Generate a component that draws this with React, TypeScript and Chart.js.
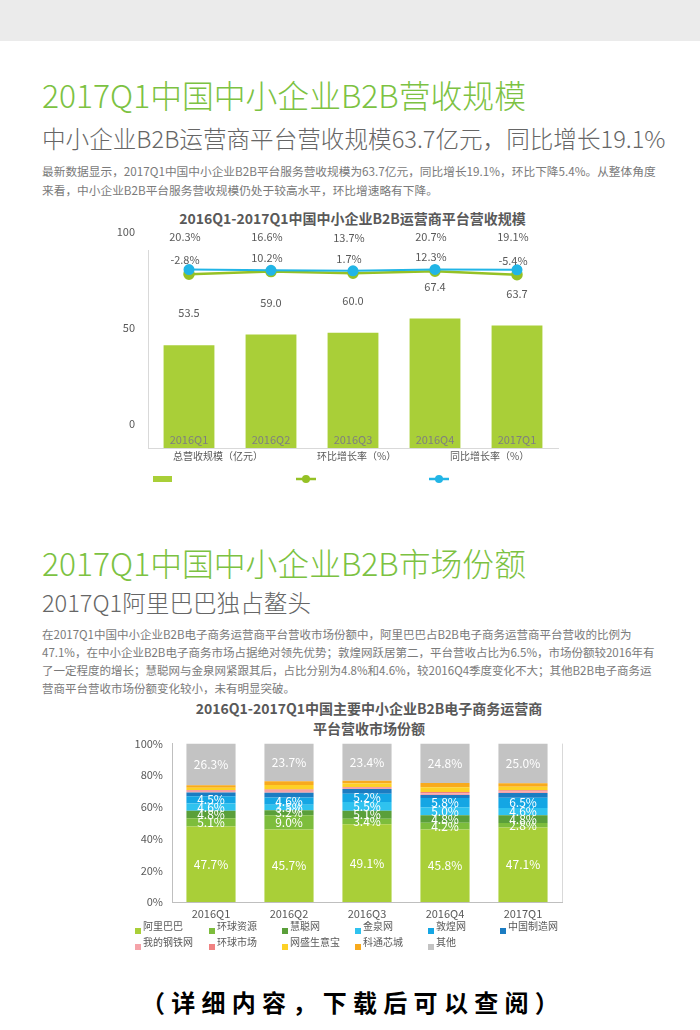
import React, { useEffect, useRef } from "react";
import { Chart, registerables } from "chart.js";

Chart.register(...registerables);
Chart.defaults.font.family = '"Noto Sans CJK SC", "Noto Sans", sans-serif';

// ---------- Chart 1 data ----------
const quarters = ["2016Q1", "2016Q2", "2016Q3", "2016Q4", "2017Q1"];
const revenue = [53.5, 59.0, 60.0, 67.4, 63.7];
const qoqGrowth = [-2.8, 10.2, 1.7, 12.3, -5.4];
const yoyGrowth = [20.3, 16.6, 13.7, 20.7, 19.1];
const revenueTicks = [0, 50, 100];
const revenueLegend = ["总营收规模（亿元）", "环比增长率（%）", "同比增长率（%）"];

// ---------- Chart 2 data ----------
const shareNames = [
  "阿里巴巴", "环球资源", "慧聪网", "金泉网", "敦煌网", "中国制造网",
  "我的钢铁网", "环球市场", "网盛生意宝", "科通芯城", "其他",
];
const alibaba = [47.7, 45.7, 49.1, 45.8, 47.1];
const globalSources = [5.1, 9.0, 3.4, 4.2, 2.8];
const hc360 = [4.8, 3.2, 5.1, 4.8, 4.8];
const jqw = [4.6, 3.5, 5.5, 5.0, 4.6];
const dhgate = [4.5, 4.6, 5.2, 5.8, 6.5];
const madeInChina = [2.5, 3.0, 3.1, 2.0, 3.0];
const mysteel = [1.0, 1.2, 0.8, 1.0, 1.0];
const globalMarket = [0.5, 0.8, 0.4, 0.8, 0.7];
const netsun = [1.5, 2.8, 2.2, 3.0, 2.3];
const cogobuy = [1.5, 2.5, 1.8, 2.8, 2.2];
const others = [26.3, 23.7, 23.4, 24.8, 25.0];
const shareValues = [alibaba, globalSources, hc360, jqw, dhgate, madeInChina, mysteel, globalMarket, netsun, cogobuy, others];
const shareLabelled = [true, true, true, true, true, false, false, false, false, false, true];
const shareTicks = [0, 20, 40, 60, 80, 100];

// ---------- styles ----------
const BAR_GREEN = "#a9cf38";
const LINE_GREEN = "#95c125";
const LINE_BLUE = "#22b5e6";
const shareColors = [
  "#a9cf38", "#7dbd3c", "#5a9f3a", "#2fc2ef", "#14a6e4", "#1b7cc2",
  "#f5a3a9", "#f08282", "#fdd126", "#f8aa1d", "#c3c3c3",
];
const FONT = '"Noto Sans CJK SC", "Noto Sans", sans-serif';
const TXT = "#595959";

function RevenueChart() {
  const ref = useRef<HTMLCanvasElement>(null);
  useEffect(() => {
    const labelPlugin = {
      id: "revLabels",
      afterDatasetsDraw(chart: any) {
        const ctx = chart.ctx;
        ctx.save();
        ctx.font = `11px ${FONT}`;
        ctx.textAlign = "center";
        ctx.textBaseline = "middle";
        // category labels drawn inside the bars, from the x scale
        const xs = chart.scales.x;
        ctx.fillStyle = "#7f7f7f";
        xs.ticks.forEach((t: any, i: number) => {
          ctx.fillText(xs.getLabelForValue(t.value), xs.getPixelForTick(i), chart.chartArea.bottom - 8);
        });
        ctx.fillStyle = TXT;
        chart.getDatasetMeta(0).data.forEach((el: any, i: number) => {
          ctx.fillText(revenue[i].toFixed(1), el.x, el.y - 32);
        });
        chart.getDatasetMeta(1).data.forEach((el: any, i: number) => {
          ctx.fillText(qoqGrowth[i].toFixed(1) + "%", el.x - 4, el.y - 14);
        });
        chart.getDatasetMeta(2).data.forEach((el: any, i: number) => {
          ctx.fillText(yoyGrowth[i].toFixed(1) + "%", el.x - 4, el.y - 33);
        });
        ctx.restore();
      },
    };
    const legendPlugin = {
      id: "revLegend",
      afterDraw(chart: any) {
        const ctx = chart.ctx;
        ctx.save();
        ctx.font = `10px ${FONT}`;
        ctx.fillStyle = TXT;
        ctx.textAlign = "left";
        ctx.textBaseline = "middle";
        const textX = [173, 317, 450];
        revenueLegend.forEach((t, i) => ctx.fillText(t, textX[i], 231));
        const my = 254;
        ctx.fillStyle = BAR_GREEN;
        ctx.fillRect(153, my - 3, 19, 6);
        const lines = [
          { x: 296, c: LINE_GREEN },
          { x: 429, c: LINE_BLUE },
        ];
        lines.forEach((l) => {
          ctx.strokeStyle = l.c;
          ctx.fillStyle = l.c;
          ctx.lineWidth = 2.5;
          ctx.beginPath();
          ctx.moveTo(l.x, my);
          ctx.lineTo(l.x + 20, my);
          ctx.stroke();
          ctx.beginPath();
          ctx.arc(l.x + 10, my, 4, 0, Math.PI * 2);
          ctx.fill();
        });
        ctx.restore();
      },
    };
    const chart = new Chart(ref.current!, {
      type: "bar",
      data: {
        labels: quarters,
        datasets: [
          {
            type: "bar",
            label: revenueLegend[0],
            data: revenue,
            backgroundColor: BAR_GREEN,
            yAxisID: "y",
            order: 3,
            barPercentage: 0.62,
            categoryPercentage: 1,
          },
          {
            type: "line",
            label: revenueLegend[1],
            data: qoqGrowth,
            borderColor: LINE_GREEN,
            backgroundColor: LINE_GREEN,
            pointBackgroundColor: LINE_GREEN,
            pointBorderColor: LINE_GREEN,
            yAxisID: "y2",
            order: 2,
            pointRadius: 4.5,
            borderWidth: 2.5,
          },
          {
            type: "line",
            label: revenueLegend[2],
            data: yoyGrowth,
            borderColor: LINE_BLUE,
            backgroundColor: LINE_BLUE,
            pointBackgroundColor: LINE_BLUE,
            pointBorderColor: LINE_BLUE,
            yAxisID: "y2",
            order: 1,
            pointRadius: 4.5,
            borderWidth: 2,
          },
        ] as any,
      },
      options: {
        animation: false,
        responsive: false,
        maintainAspectRatio: false,
        layout: { padding: { left: 0, right: 142, top: 25, bottom: 0 } },
        plugins: { legend: { display: false }, tooltip: { enabled: false } },
        scales: {
          x: {
            grid: { display: false, drawTicks: false },
            border: { color: "#d9d9d9" },
            ticks: { display: false },
            afterFit: (s: any) => {
              s.height = 47;
            },
          },
          y: {
            min: 0,
            max: 103,
            afterBuildTicks: (s: any) => {
              s.ticks = revenueTicks.map((v) => ({ value: v }));
            },
            grid: { display: false, drawTicks: false },
            border: { color: "#d9d9d9" },
            ticks: { color: TXT, font: { size: 11 }, padding: 13, labelOffset: -24 },
            afterFit: (s: any) => {
              s.width = 148;
            },
          },
          y2: { display: false, min: -872, max: 118 },
        },
      } as any,
      plugins: [labelPlugin, legendPlugin],
    });
    return () => chart.destroy();
  }, []);
  return (
    <canvas
      ref={ref}
      width={700}
      height={270}
      style={{ position: "absolute", left: 0, top: 225, width: 700, height: 270 }}
    />
  );
}

function ShareChart() {
  const ref = useRef<HTMLCanvasElement>(null);
  useEffect(() => {
    const labelPlugin = {
      id: "shareLabels",
      afterDatasetsDraw(chart: any) {
        const ctx = chart.ctx;
        ctx.save();
        ctx.font = `12px ${FONT}`;
        ctx.fillStyle = "#ffffff";
        ctx.textAlign = "center";
        ctx.textBaseline = "middle";
        shareValues.forEach((vals, d) => {
          if (!shareLabelled[d]) return;
          chart.getDatasetMeta(d).data.forEach((el: any, i: number) => {
            ctx.fillText(vals[i].toFixed(1) + "%", el.x, (el.y + el.base) / 2);
          });
        });
        // right frame line
        const a = chart.chartArea;
        ctx.strokeStyle = "#d9d9d9";
        ctx.lineWidth = 1;
        ctx.beginPath();
        ctx.moveTo(a.right + 0.5, a.top);
        ctx.lineTo(a.right + 0.5, a.bottom);
        ctx.stroke();
        ctx.restore();
      },
    };
    const legendPlugin = {
      id: "shareLegend",
      afterDraw(chart: any) {
        const ctx = chart.ctx;
        ctx.save();
        ctx.font = `10px ${FONT}`;
        ctx.textAlign = "left";
        ctx.textBaseline = "middle";
        const colX = [143, 217, 290, 363, 436, 508];
        const rowY = [198, 214];
        shareNames.forEach((n, i) => {
          const x = colX[i % 6];
          const y = rowY[Math.floor(i / 6)];
          ctx.fillStyle = shareColors[i];
          ctx.fillRect(x - 8, y + 2, 6, 6);
          ctx.fillStyle = TXT;
          ctx.fillText(n, x, y);
        });
        ctx.restore();
      },
    };
    const chart = new Chart(ref.current!, {
      type: "bar",
      data: {
        labels: quarters,
        datasets: shareNames.map((n, i) => ({
          label: n,
          data: shareValues[i],
          backgroundColor: shareColors[i],
          barPercentage: 0.63,
          categoryPercentage: 1,
        })),
      },
      options: {
        animation: false,
        responsive: false,
        maintainAspectRatio: false,
        layout: { padding: { left: 0, right: 138, top: 1, bottom: 0 } },
        plugins: { legend: { display: false }, tooltip: { enabled: false } },
        scales: {
          x: {
            stacked: true,
            grid: { display: false, drawTicks: false },
            border: { color: "#bfbfbf" },
            ticks: { color: TXT, font: { size: 11 }, padding: 5 },
            afterFit: (s: any) => {
              s.height = 53;
            },
          },
          y: {
            stacked: true,
            min: 0,
            max: 100,
            afterBuildTicks: (s: any) => {
              s.ticks = shareTicks.map((v) => ({ value: v }));
            },
            grid: { display: false, drawTicks: false },
            border: { color: "#bfbfbf" },
            ticks: {
              color: TXT,
              font: { size: 11 },
              padding: 9,
              callback: (v: any) => v + "%",
            },
            afterFit: (s: any) => {
              s.width = 172;
            },
          },
        },
      } as any,
      plugins: [labelPlugin, legendPlugin],
    });
    return () => chart.destroy();
  }, []);
  return (
    <canvas
      ref={ref}
      width={700}
      height={227}
      style={{ position: "absolute", left: 0, top: 728, width: 700, height: 227 }}
    />
  );
}

const abs = (top: number, extra: React.CSSProperties = {}): React.CSSProperties => ({
  position: "absolute",
  top,
  left: 42,
  whiteSpace: "nowrap",
  fontFamily: FONT,
  margin: 0,
  ...extra,
});

export default function App() {
  return (
    <div
      style={{
        position: "absolute",
        left: 0,
        top: 0,
        width: 700,
        height: 1030,
        background: "#ffffff",
        overflow: "hidden",
        fontFamily: FONT,
      }}
    >
      <div style={{ position: "absolute", left: 0, top: 0, width: 700, height: 41, background: "#ebebeb" }} />

      <div style={abs(74, { fontSize: 31.8, lineHeight: "40px", color: "#7cc242", fontWeight: 300 })}>
        2017Q1中国中小企业B2B营收规模
      </div>
      <div style={abs(123.5, { fontSize: 23.6, lineHeight: "28px", color: "#666666", fontWeight: 300 })}>
        中小企业B2B运营商平台营收规模63.7亿元，同比增长19.1%
      </div>
      <div style={abs(160.5, { fontSize: 11.7, lineHeight: "19px", color: "#7a7a7a" })}>
        最新数据显示，2017Q1中国中小企业B2B平台服务营收规模为63.7亿元，同比增长19.1%，环比下降5.4%。从整体角度
        <br />
        来看，中小企业B2B平台服务营收规模仍处于较高水平，环比增速略有下降。
      </div>
      <div
        style={abs(209, {
          left: 0,
          width: 705,
          textAlign: "center",
          fontSize: 14,
          lineHeight: "18px",
          fontWeight: 700,
          color: TXT,
        })}
      >
        2016Q1-2017Q1中国中小企业B2B运营商平台营收规模
      </div>

      <RevenueChart />

      <div style={abs(542, { fontSize: 31.8, lineHeight: "40px", color: "#7cc242", fontWeight: 300 })}>
        2017Q1中国中小企业B2B市场份额
      </div>
      <div style={abs(588, { fontSize: 23.6, lineHeight: "28px", color: "#666666", fontWeight: 300 })}>
        2017Q1阿里巴巴独占鳌头
      </div>
      <div style={abs(624.5, { fontSize: 11.5, lineHeight: "18px", color: "#7a7a7a" })}>
        在2017Q1中国中小企业B2B电子商务运营商平台营收市场份额中，阿里巴巴占B2B电子商务运营商平台营收的比例为
        <br />
        47.1%，在中小企业B2B电子商务市场占据绝对领先优势；敦煌网跃居第二，平台营收占比为6.5%，市场份额较2016年有
        <br />
        了一定程度的增长；慧聪网与金泉网紧跟其后，占比分别为4.8%和4.6%，较2016Q4季度变化不大；其他B2B电子商务运
        <br />
        营商平台营收市场份额变化较小，未有明显突破。
      </div>
      <div
        style={abs(697.7, {
          left: 0,
          width: 738,
          textAlign: "center",
          fontSize: 14,
          lineHeight: "20px",
          fontWeight: 700,
          color: TXT,
        })}
      >
        2016Q1-2017Q1中国主要中小企业B2B电子商务运营商
        <br />
        平台营收市场份额
      </div>

      <ShareChart />

      <div
        style={abs(987, {
          left: 3,
          width: 700,
          textAlign: "center",
          fontSize: 24,
          lineHeight: "30px",
          fontWeight: 700,
          color: "#000000",
          letterSpacing: 6.3,
        })}
      >
        （详细内容，下载后可以查阅）
      </div>
    </div>
  );
}
